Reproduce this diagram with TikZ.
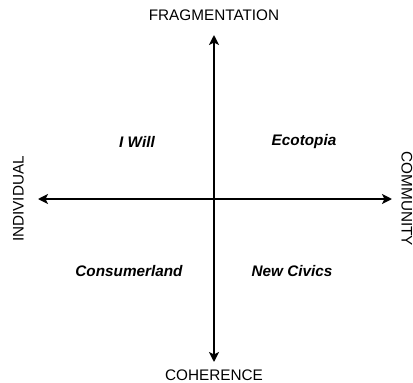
\documentclass[tikz,border=0pt]{standalone}
\usepackage{fontspec}
\setmainfont{Liberation Sans}
\usetikzlibrary{arrows.meta}
\begin{document}
\begin{tikzpicture}[x=1pt,y=-1pt,
  axis/.style={line width=2.7pt,{Stealth[length=10pt,width=10pt,inset=2.5pt]}-{Stealth[length=10pt,width=10pt,inset=2.5pt]}},
  pole/.style={font=\fontsize{15.3}{18}\selectfont,inner sep=0pt},
  quad/.style={font=\fontsize{15.3}{18}\selectfont\bfseries\itshape,inner sep=0pt}]
\useasboundingbox (0,0) rectangle (413,383);
\coordinate (top) at (214,35);
\coordinate (bot) at (214,362);
\coordinate (lft) at (38,199);
\coordinate (rgt) at (392,199);
\draw[axis] (top) -- (bot);
\draw[axis] (lft) -- (rgt);
\node[pole] (frag) at (214,15) {FRAGMENTATION};
\node[pole] (coh) at (214,375) {COHERENCE};
\node[pole,rotate=90] (ind) at (18.5,199) {INDIVIDUAL};
\node[pole,rotate=-90,anchor=north] (com) at (412.5,199) {COMMUNITY};
\node[quad] (iwill) at (137,142) {I Will};
\node[quad] (eco) at (304,142) {Ecotopia};
\node[quad] (cons) at (129,271) {Consumerland};
\node[quad] (civ) at (292,271) {New Civics};
\end{tikzpicture}
\end{document}
